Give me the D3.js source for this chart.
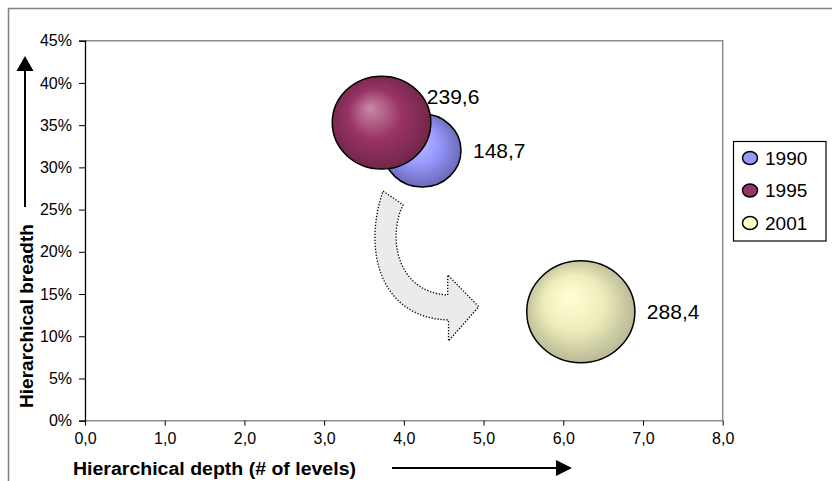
<!DOCTYPE html>
<html>
<head>
<meta charset="utf-8">
<script src="https://cdn.jsdelivr.net/npm/d3@7"></script>
<style>
  html, body { margin: 0; padding: 0; background: #fff; }
  svg { display: block; font-family: "Liberation Sans", Arial, sans-serif; }
</style>
</head>
<body>
<svg id="chart" width="832" height="481"></svg>
<script>
// Bubble series: hierarchical depth (x), hierarchical breadth (y, %), bubble size
const years   = ["1990", "1995", "2001"];
const depth   = [4.23, 3.72, 6.22];
const breadth = [32.0, 35.3, 12.9];
const sizes   = [148.7, 239.6, 288.4];
const sizeLabels = ["148,7", "239,6", "288,4"];

const xTicks = [0, 1, 2, 3, 4, 5, 6, 7, 8];
const yTicks = [0, 5, 10, 15, 20, 25, 30, 35, 40, 45];

// Curved "shift" arrow drawn between the clusters, in data units (depth, breadth %)
const shiftTop      = [[3.74, 27.20], [3.99, 25.55]];
const shiftInner    = [[3.80, 21.99], [3.89, 15.24], [4.55, 14.89]];
const shiftHead     = [[4.55, 17.26], [4.94, 13.50], [4.56, 9.44], [4.56, 11.93]];
const shiftOuter    = [[3.70, 12.16], [3.48, 20.22], [3.74, 27.20]];

const fills = {
  "1990": { light: "#c4c4ff", mid: "#9999ff", dark: "#5c5ca3", legend: "#9999ff" },
  "1995": { light: "#c98aa5", mid: "#993366", dark: "#66223f", legend: "#993366" },
  "2001": { light: "#ffffd6", mid: "#eeeebb", dark: "#a8a88a", legend: "#ffffcc" }
};

const svg = d3.select("#chart");
const plot = { left: 85, right: 722.7, top: 40.7, bottom: 420.7 };

const x = d3.scaleLinear().domain([0, 8]).range([plot.left, plot.right]);
const y = d3.scaleLinear().domain([0, 45]).range([plot.bottom, plot.top]);
const r = d3.scaleSqrt().domain([0, 288.4]).range([0, 51]);
const stretch = 1.06;

// gradients
const defs = svg.append("defs");
years.forEach(yr => {
  const g = defs.append("radialGradient")
    .attr("id", "grad" + yr)
    .attr("cx", "50%").attr("cy", "50%").attr("r", "60%")
    .attr("fx", "38%").attr("fy", "34%");
  g.append("stop").attr("offset", "0%").attr("stop-color", fills[yr].light);
  g.append("stop").attr("offset", "45%").attr("stop-color", fills[yr].mid);
  g.append("stop").attr("offset", "100%").attr("stop-color", fills[yr].dark);
});

// outer chart frame
svg.append("path")
  .attr("d", "M8.5,481 V8.5 H832")
  .attr("fill", "none").attr("stroke", "#808080").attr("stroke-width", 1.5);

// plot area border
svg.append("path")
  .attr("d", `M${plot.left},${plot.top} H${plot.right} V${plot.bottom} H${plot.left}`)
  .attr("fill", "none").attr("stroke", "#8c8c8c").attr("stroke-width", 1.5);

// y axis
const yAxis = svg.append("g").attr("transform", `translate(${plot.left},0)`)
  .call(d3.axisLeft(y).tickValues(yTicks).tickSize(6).tickPadding(7)
    .tickFormat(d => d + "%"));
yAxis.select(".domain").attr("stroke", "#000").attr("stroke-width", 1.3);
yAxis.selectAll(".tick line").attr("stroke", "#000");
yAxis.selectAll("text").attr("font-size", 16).attr("fill", "#000")
  .attr("font-family", "Liberation Sans, Arial, sans-serif");

// x axis
const xAxis = svg.append("g").attr("transform", `translate(0,${plot.bottom})`)
  .call(d3.axisBottom(x).tickValues(xTicks).tickSize(5).tickPadding(7)
    .tickFormat(d => d3.format(".1f")(d).replace(".", ",")));
xAxis.select(".domain").remove();
xAxis.selectAll(".tick line").attr("stroke", "#000");
xAxis.selectAll("text").attr("font-size", 16).attr("fill", "#000")
  .attr("font-family", "Liberation Sans, Arial, sans-serif");

// curved shift arrow
const P = p => `${x(p[0]).toFixed(1)},${y(p[1]).toFixed(1)}`;
const arrowPath =
  `M${P(shiftTop[0])} L${P(shiftTop[1])} ` +
  `C${P(shiftInner[0])} ${P(shiftInner[1])} ${P(shiftInner[2])} ` +
  `L${P(shiftHead[0])} L${P(shiftHead[1])} L${P(shiftHead[2])} L${P(shiftHead[3])} ` +
  `C${P(shiftOuter[0])} ${P(shiftOuter[1])} ${P(shiftOuter[2])} Z`;
svg.append("path")
  .attr("d", arrowPath)
  .attr("fill", "#ebebeb")
  .attr("stroke", "#000")
  .attr("stroke-width", 1.3)
  .attr("stroke-dasharray", "1.3,1.7");

// bubbles
const data = years.map((yr, i) => ({
  year: yr, x: depth[i], y: breadth[i], size: sizes[i], label: sizeLabels[i]
}));

svg.append("g").selectAll("ellipse").data(data).join("ellipse")
  .attr("cx", d => x(d.x))
  .attr("cy", d => y(d.y))
  .attr("rx", d => r(d.size) * stretch)
  .attr("ry", d => r(d.size))
  .attr("fill", d => `url(#grad${d.year})`)
  .attr("stroke", "#000")
  .attr("stroke-width", 1.5);

// value labels to the right of each bubble
const labelNudge = { "1995": { dx: -16, dy: -26 } };
svg.append("g").selectAll("text").data(data).join("text")
  .attr("x", d => x(d.x) + r(d.size) * stretch + 12 + ((labelNudge[d.year] || {}).dx || 0))
  .attr("y", d => y(d.y) + ((labelNudge[d.year] || {}).dy || 0))
  .attr("dy", "0.36em")
  .attr("font-size", 21)
  .attr("fill", "#000")
  .text(d => d.label);

// axis titles with direction arrows
svg.append("text")
  .attr("transform", "translate(33,316) rotate(-90)")
  .attr("text-anchor", "middle")
  .attr("font-size", 19).attr("font-weight", "bold")
  .text("Hierarchical breadth");

svg.append("text")
  .attr("x", 73).attr("y", 475)
  .attr("font-size", 18).attr("font-weight", "bold")
  .attr("textLength", 283).attr("lengthAdjust", "spacingAndGlyphs")
  .text("Hierarchical depth (# of levels)");

svg.append("line")
  .attr("x1", 25).attr("x2", 25).attr("y1", 207).attr("y2", 68)
  .attr("stroke", "#000").attr("stroke-width", 2);
svg.append("path")
  .attr("d", "M25,56 L16.5,71 L33.5,71 Z").attr("fill", "#000");

svg.append("line")
  .attr("x1", 392).attr("x2", 558).attr("y1", 468).attr("y2", 468)
  .attr("stroke", "#000").attr("stroke-width", 2);
svg.append("path")
  .attr("d", "M572,468 L556,460 L556,476 Z").attr("fill", "#000");

// legend
const lg = svg.append("g");
lg.append("rect")
  .attr("x", 733.5).attr("y", 141.5).attr("width", 92.5).attr("height", 99.5)
  .attr("fill", "#fff").attr("stroke", "#000").attr("stroke-width", 1.2);
const legendY = d3.scalePoint().domain(years).range([158, 223]);
const items = lg.selectAll("g.item").data(years).join("g")
  .attr("class", "item")
  .attr("transform", d => `translate(0,${legendY(d)})`);
items.append("ellipse")
  .attr("cx", 750).attr("cy", 0).attr("rx", 7.5).attr("ry", 6.5)
  .attr("fill", d => fills[d].legend).attr("stroke", "#000").attr("stroke-width", 1.5);
items.append("text")
  .attr("x", 765).attr("y", 0).attr("dy", "0.36em")
  .attr("font-size", 19).attr("fill", "#000")
  .text(d => d);
</script>
</body>
</html>
